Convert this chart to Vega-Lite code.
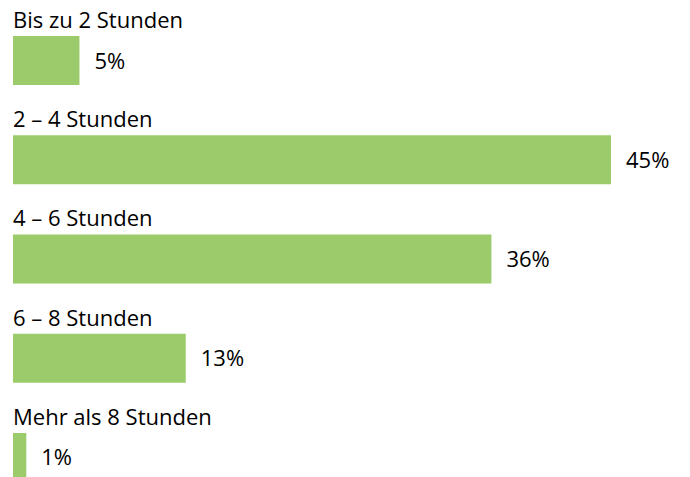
{
  "$schema": "https://vega.github.io/schema/vega-lite/v6.json",
  "width": 690,
  "height": 477,
  "autosize": "none",
  "padding": 0,
  "background": "white",
  "config": {"view": {"stroke": null}},
  "data": {"values": [
    {"cat": "Bis zu 2 Stunden", "value": 5, "label": "5%"},
    {"cat": "2 – 4 Stunden", "value": 45, "label": "45%"},
    {"cat": "4 – 6 Stunden", "value": 36, "label": "36%"},
    {"cat": "6 – 8 Stunden", "value": 13, "label": "13%"},
    {"cat": "Mehr als 8 Stunden", "value": 1, "label": "1%"}
  ]},
  "encoding": {
    "y": {"field": "cat", "type": "nominal", "sort": null, "axis": null,
      "scale": {"range": [0, 518], "paddingInner": 0.506, "paddingOuter": 0.3627}}
  },
  "layer": [
    {
      "mark": {"type": "bar", "color": "#9BCB6B"},
      "encoding": {
        "x": {"field": "value", "type": "quantitative", "axis": null,
          "scale": {"domain": [0, 45], "range": [13, 611]}}
      }
    },
    {
      "mark": {"type": "text", "align": "left", "baseline": "middle", "dx": 15, "dy": 1, "font": "Open Sans", "fontSize": 22, "color": "black"},
      "encoding": {
        "x": {"field": "value", "type": "quantitative"},
        "text": {"field": "label"}
      }
    },
    {
      "mark": {"type": "text", "align": "left", "baseline": "alphabetic", "dy": -8, "font": "Open Sans", "fontSize": 22, "color": "black"},
      "encoding": {
        "x": {"datum": 0, "type": "quantitative"},
        "y": {"field": "cat", "type": "nominal", "sort": null, "bandPosition": 0},
        "text": {"field": "cat"}
      }
    }
  ]
}
